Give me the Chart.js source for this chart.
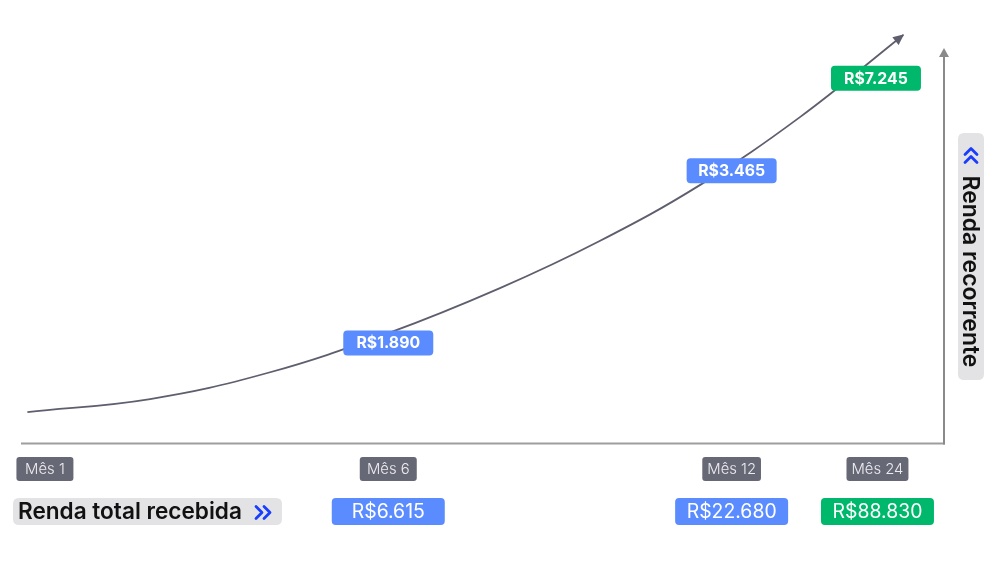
<!DOCTYPE html>
<html><head><meta charset="utf-8">
<script src="https://cdn.jsdelivr.net/npm/chart.js@4"></script>
<style>html,body{margin:0;padding:0;background:#fff;}#wrap{width:1000px;height:563px;position:relative;}</style>
</head><body><div id="wrap"><canvas id="c" width="1000" height="563"></canvas></div>
<script>
// ---- data ----
const categories = ['Mês 1', 'Mês 6', 'Mês 12', 'Mês 24'];
const tickPositions = [2.7, 39.9, 77.1, 92.9];          // position of each month along the time axis (0-100)
const recurringIncome = [null, 1890, 3465, 7245];        // "Renda recorrente" labels on the curve
const recurringLabelLevel = [null, 24.2, 65.9, 88.3];    // height of those labels (0-100)
const totalReceived = [null, 6615, 22680, 88830];        // "Renda total recebida"
const columnColors = ['#676875', '#5b8cff', '#5b8cff', '#00b86b'];
const curveX = [0.8, 14.1, 26.8, 39.9, 52.0, 62.8, 73.7, 84.5, 95.7];
const curveY = [7.5, 10.65, 16.95, 26.6, 37.5, 48.9, 62.5, 78.9, 98.8];

const FAMILY = 'Inter, "Noto Sans", sans-serif';
function brl(v){ return 'R$' + String(v).replace(/\B(?=(\d{3})+(?!\d))/g, '.'); }
function rr(ctx, x, y, w, h, r){
  ctx.beginPath();
  ctx.moveTo(x + r, y); ctx.lineTo(x + w - r, y); ctx.quadraticCurveTo(x + w, y, x + w, y + r);
  ctx.lineTo(x + w, y + h - r); ctx.quadraticCurveTo(x + w, y + h, x + w - r, y + h);
  ctx.lineTo(x + r, y + h); ctx.quadraticCurveTo(x, y + h, x, y + h - r);
  ctx.lineTo(x, y + r); ctx.quadraticCurveTo(x, y, x + r, y); ctx.closePath();
}
function fit(ctx, text, weight, target){
  ctx.font = weight + ' 100px ' + FAMILY;
  return 100 * target / ctx.measureText(text).width;
}
function chevrons(ctx, x, y, dir){
  ctx.save();
  ctx.strokeStyle = '#1a3cff'; ctx.lineWidth = 2.8; ctx.lineCap = 'round'; ctx.lineJoin = 'round';
  for (const off of [0, 8]) {
    ctx.beginPath();
    ctx.moveTo(x + off, y - 6); ctx.lineTo(x + off + 6 * dir, y); ctx.lineTo(x + off, y + 6);
    ctx.stroke();
  }
  ctx.restore();
}

const overlay = {
  id: 'overlay',
  beforeDatasetsDraw(chart){
    const ctx = chart.ctx, xs = chart.scales.x, ys = chart.scales.y;
    const y0 = ys.getPixelForValue(0) + 0.5;
    const xr = xs.getPixelForValue(100) + 1;
    ctx.save();
    ctx.strokeStyle = '#9e9e9e'; ctx.lineWidth = 2;
    ctx.beginPath(); ctx.moveTo(xs.getPixelForValue(0) + 1, y0); ctx.lineTo(xr + 1, y0); ctx.stroke();
    ctx.strokeStyle = '#8a8a8a';
    const tipY = ys.getPixelForValue(100) + 18;
    ctx.beginPath(); ctx.moveTo(xr, y0 + 1); ctx.lineTo(xr, tipY + 6); ctx.stroke();
    ctx.fillStyle = '#8a8a8a';
    ctx.beginPath(); ctx.moveTo(xr, tipY); ctx.lineTo(xr - 5, tipY + 9); ctx.lineTo(xr + 5, tipY + 9); ctx.closePath(); ctx.fill();
    ctx.restore();
  },
  afterDatasetsDraw(chart){
    const ctx = chart.ctx, xs = chart.scales.x, ys = chart.scales.y;
    ctx.save();
    const pts = chart.getDatasetMeta(0).data;
    const p1 = pts[pts.length - 1];
    const cp = p1.cp1x !== undefined ? { x: p1.cp1x, y: p1.cp1y } : pts[pts.length - 2];
    const a = Math.atan2(p1.y - cp.y, p1.x - cp.x);
    ctx.fillStyle = '#5e5e6e';
    ctx.translate(p1.x, p1.y); ctx.rotate(a);
    ctx.beginPath(); ctx.moveTo(1, 0); ctx.lineTo(-10, -5); ctx.lineTo(-10, 5); ctx.closePath(); ctx.fill();
    ctx.restore();

    ctx.save();
    ctx.textAlign = 'center'; ctx.textBaseline = 'middle';
    const mSize = fit(ctx, 'Mês 24', 300, 52);
    ctx.font = '300 ' + mSize + 'px ' + FAMILY;
    categories.forEach((c, i) => {
      const cx = xs.getPixelForValue(tickPositions[i]);
      const w = Math.max(57, ctx.measureText(c).width + 10);
      ctx.fillStyle = '#676875';
      rr(ctx, cx - w / 2, 457, w, 24, 3); ctx.fill();
      ctx.fillStyle = '#ececf0';
      ctx.fillText(c, cx, 469.5);
    });
    const tSize = fit(ctx, brl(88830), 400, 90);
    ctx.font = '400 ' + tSize + 'px ' + FAMILY;
    totalReceived.forEach((v, i) => {
      if (v == null) return;
      const cx = xs.getPixelForValue(tickPositions[i]);
      ctx.fillStyle = columnColors[i];
      rr(ctx, cx - 56.5, 498, 113, 27, 4); ctx.fill();
      ctx.fillStyle = '#ffffff';
      ctx.fillText(brl(v), cx, 512);
    });
    const rSize = fit(ctx, brl(3465), 700, 67);
    ctx.font = '700 ' + rSize + 'px ' + FAMILY;
    recurringIncome.forEach((v, i) => {
      if (v == null) return;
      const cx = xs.getPixelForValue(tickPositions[i]) - (i === 3 ? 1.5 : 0);
      const cy = ys.getPixelForValue(recurringLabelLevel[i]);
      ctx.fillStyle = columnColors[i];
      rr(ctx, cx - 45, cy - 12.5, 90, 25, 4); ctx.fill();
      ctx.fillStyle = '#ffffff';
      ctx.fillText(brl(v), cx, cy + 0.5);
    });
    ctx.fillStyle = '#e3e3e6';
    rr(ctx, 13, 498, 269, 27, 6); ctx.fill();
    const lSize = fit(ctx, 'Renda total recebida', 600, 224);
    ctx.font = '600 ' + lSize + 'px ' + FAMILY;
    ctx.fillStyle = '#111111'; ctx.textAlign = 'left';
    ctx.fillText('Renda total recebida', 18, 512);
    chevrons(ctx, 256, 512.5, 1);
    ctx.translate(971, 256.5); ctx.rotate(Math.PI / 2);
    ctx.fillStyle = '#e3e3e6';
    rr(ctx, -123.5, -13, 247, 26, 6); ctx.fill();
    const vSize = fit(ctx, 'Renda recorrente', 600, 192);
    ctx.font = '600 ' + vSize + 'px ' + FAMILY;
    ctx.fillStyle = '#111111'; ctx.textAlign = 'left';
    ctx.fillText('Renda recorrente', -81, 1);
    ctx.save(); ctx.scale(-1, 1); chevrons(ctx, 94, 0, 1); ctx.restore();
    ctx.restore();
  }
};

new Chart(document.getElementById('c'), {
  type: 'line',
  data: {
    datasets: [{
      data: curveX.map((x, i) => ({ x: x, y: curveY[i] })),
      borderColor: '#5e5e6e', borderWidth: 1.8, pointRadius: 0,
      tension: 0.4, fill: false
    }]
  },
  options: {
    responsive: false, animation: false,
    layout: { padding: { left: 20, right: 57, top: 30, bottom: 120 } },
    plugins: { legend: { display: false }, tooltip: { enabled: false } },
    scales: {
      x: { type: 'linear', min: 0, max: 100, display: false },
      y: { type: 'linear', min: 0, max: 100, display: false }
    }
  },
  plugins: [overlay]
});
</script></body></html>
